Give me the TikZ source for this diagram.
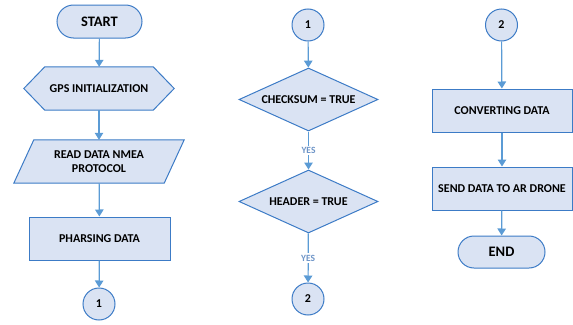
\documentclass[tikz,border=0pt]{standalone}
\usepackage{fontspec}
\setmainfont{Carlito}
\usetikzlibrary{shapes.geometric,arrows.meta}
\definecolor{boxfill}{HTML}{DAE3F3}
\definecolor{boxline}{HTML}{3C7BC6}
\definecolor{arrline}{HTML}{5B9BD5}
\definecolor{yescol}{HTML}{6E95C8}
\tikzset{
  lbl/.style={font=\fontsize{12}{14}\selectfont\bfseries, align=center, inner sep=0pt},
  term/.style={lbl, draw=boxline, fill=boxfill, line width=1pt, rectangle},
  proc/.style={lbl, draw=boxline, fill=boxfill, line width=1pt, rectangle},
  conn/.style={lbl, draw=boxline, fill=boxfill, line width=1pt, circle, minimum size=32pt},
  dec/.style={lbl, draw=boxline, fill=boxfill, line width=1pt, diamond, aspect=2.2, minimum width=139pt, minimum height=63pt},
  plain/.style={lbl, minimum width=150pt, minimum height=43pt},
  outline/.style={draw=boxline, fill=boxfill, line width=1pt},
  arr/.style={draw=arrline, line width=1.2pt, -{Triangle[width=8.5pt,length=7pt]}},
  yes/.style={font=\fontsize{9.5}{10}\selectfont\bfseries, text=yescol, fill=white, inner sep=1.5pt}
}
\begin{document}
\begin{tikzpicture}[x=1pt,y=-1pt]
\useasboundingbox (0,0) rectangle (573,324);
% column 1
\node[term, rounded corners=16.5pt, minimum width=85pt, minimum height=33pt, font=\fontsize{14.5}{16}\selectfont\bfseries] (start) at (99.5,21.5) {START};
\node[plain] (gps) at (99,88.5) {};
\path[outline] (gps.west) -- ([xshift=21pt]gps.north west) -- ([xshift=-21pt]gps.north east) -- (gps.east) -- ([xshift=-21pt]gps.south east) -- ([xshift=21pt]gps.south west) -- cycle;
\node[lbl] at (gps.center) {GPS INITIALIZATION};
\node[plain] (read) at (99,161.5) {};
\path[outline] ([xshift=10pt]read.north west) -- ([xshift=10pt]read.north east) -- ([xshift=-10pt]read.south east) -- ([xshift=-10pt]read.south west) -- cycle;
\node[lbl] at (read.center) {READ DATA NMEA\\PROTOCOL};
\node[proc, minimum width=141pt, minimum height=43pt] (pars) at (99.5,238.5) {PHARSING DATA};
\node[conn] (c1a) at (99,304) {1};
\draw[arr] (start) -- (gps);
\draw[arr] (gps) -- (read);
\draw[arr] (read) -- (pars);
\draw[arr] (pars) -- (c1a);
% column 2
\node[conn] (c1b) at (308,25) {1};
\node[dec] (chk) at (308.5,99.5) {CHECKSUM = TRUE};
\node[dec] (hdr) at (308.5,201.5) {HEADER = TRUE};
\node[conn] (c2a) at (308,299) {2};
\draw[arr] (c1b) -- (chk);
\draw[arr] (chk) -- node[yes] {YES} (hdr);
\draw[arr] (hdr) -- node[yes] {YES} (c2a);
% column 3
\node[conn] (c2b) at (501.5,25) {2};
\node[proc, minimum width=140pt, minimum height=43pt] (conv) at (502,110.5) {CONVERTING DATA};
\node[proc, minimum width=140pt, minimum height=43pt] (send) at (502,188.5) {SEND DATA TO AR DRONE};
\node[term, rounded corners=16pt, minimum width=87pt, minimum height=32pt, font=\fontsize{14.5}{16}\selectfont\bfseries] (end) at (501.5,252) {END};
\draw[arr] (c2b) -- (conv);
\draw[arr] (conv) -- (send);
\draw[arr] (send) -- (end);
\end{tikzpicture}
\end{document}
